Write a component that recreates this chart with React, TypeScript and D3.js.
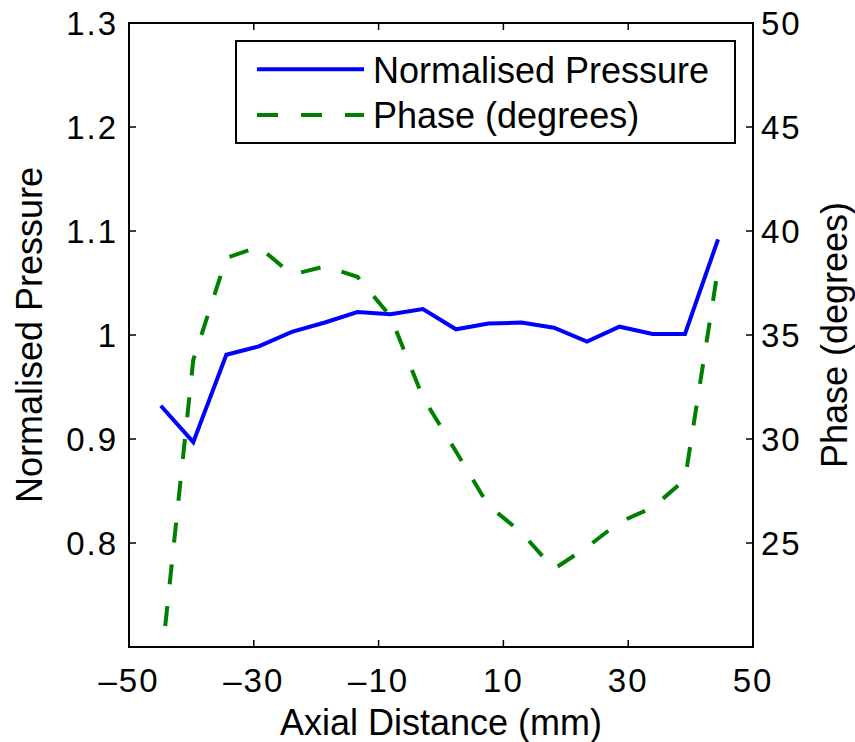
import React from "react";
import * as d3 from "d3";

const axialDistance = [-44.9, -39.7, -34.4, -29.2, -23.9, -18.6, -13.4, -8.1, -2.9, 2.4, 7.6, 12.9, 18.1, 23.4, 28.6, 33.9, 39.1, 44.4];
const normalisedPressure = [0.932, 0.897, 0.981, 0.989, 1.003, 1.012, 1.022, 1.02, 1.025, 1.0055, 1.011, 1.012, 1.007, 0.9936, 1.008, 1.001, 1.001, 1.092];
const phaseDegrees = [19.0, 33.8, 38.7, 39.25, 37.9, 38.3, 37.8, 35.9, 32.0, 29.4, 26.8, 25.5, 23.75, 24.8, 26.0, 26.7, 28.05, 38.2];

const xTicks = [-50, -30, -10, 10, 30, 50];
const leftTicks = [0.8, 0.9, 1.0, 1.1, 1.2, 1.3];
const rightTicks = [25, 30, 35, 40, 45, 50];
const seriesNames = ["Normalised Pressure", "Phase (degrees)"];

const W = 855;
const H = 742;
const L = 129, R = 753, T = 23, B = 647;
const FONT = "'Liberation Sans', Arial, Helvetica, sans-serif";

const fmtX = (v: number) => (v < 0 ? "\u2013" + Math.abs(v) : String(v));
const fmtL = (v: number) => (Math.abs(v - 1) < 1e-9 ? "1" : v.toFixed(1));

export default function App() {
  const x = d3.scaleLinear().domain([-50, 50]).range([L, R]);
  const yL = d3.scaleLinear().domain([0.7, 1.3]).range([B, T]);
  const yR = d3.scaleLinear().domain([20, 50]).range([B, T]);

  const pLine = d3
    .line<number>()
    .x((_, i) => x(axialDistance[i]))
    .y((d) => yL(d));
  const phLine = d3
    .line<number>()
    .x((_, i) => x(axialDistance[i]))
    .y((d) => yR(d));

  const tick = 7;
  const tickFont = 33;
  const labelFont = 36;

  return (
    <svg
      width={W}
      height={H}
      viewBox={`0 0 ${W} ${H}`}
      style={{ position: "absolute", left: 0, top: 0, background: "#fff" }}
      fontFamily={FONT}
    >
      <rect x={0} y={0} width={W} height={H} fill="#fff" />
      <defs>
        <clipPath id="plotClip">
          <rect x={L} y={T} width={R - L} height={B - T} />
        </clipPath>
      </defs>

      <g clipPath="url(#plotClip)">
        <path d={pLine(normalisedPressure) || ""} fill="none" stroke="#0000ff" strokeWidth={4} strokeLinejoin="miter" />
        <path d={phLine(phaseDegrees) || ""} fill="none" stroke="#008000" strokeWidth={4} strokeDasharray="20 22" />
      </g>

      {/* frame */}
      <rect x={L} y={T} width={R - L} height={B - T} fill="none" stroke="#000" strokeWidth={2} />

      {/* x ticks */}
      {xTicks.map((v) => (
        <g key={"x" + v}>
          <line x1={x(v)} x2={x(v)} y1={B} y2={B - tick} stroke="#000" strokeWidth={1.5} />
          <line x1={x(v)} x2={x(v)} y1={T} y2={T + tick} stroke="#000" strokeWidth={1.5} />
          <text x={x(v)} y={692} textAnchor="middle" fontSize={tickFont} letterSpacing={2}>
            {fmtX(v)}
          </text>
        </g>
      ))}

      {/* left ticks */}
      {leftTicks.map((v) => (
        <g key={"l" + v}>
          <line x1={L} x2={L + tick} y1={yL(v)} y2={yL(v)} stroke="#000" strokeWidth={1.5} />
          <text x={118} y={yL(v) + 11.5} textAnchor="end" fontSize={tickFont} letterSpacing={2}>
            {fmtL(v)}
          </text>
        </g>
      ))}

      {/* right ticks */}
      {rightTicks.map((v) => (
        <g key={"r" + v}>
          <line x1={R} x2={R - tick} y1={yR(v)} y2={yR(v)} stroke="#000" strokeWidth={1.5} />
          <text x={761} y={yR(v) + 11.5} textAnchor="start" fontSize={tickFont} letterSpacing={2}>
            {v}
          </text>
        </g>
      ))}

      {/* axis labels */}
      <text x={(L + R) / 2} y={735} textAnchor="middle" fontSize={labelFont}>
        Axial Distance (mm)
      </text>
      <text
        transform={`translate(41.5, ${(T + B) / 2}) rotate(-90)`}
        textAnchor="middle"
        fontSize={labelFont}
      >
        Normalised Pressure
      </text>
      <text
        transform={`translate(847, ${(T + B) / 2}) rotate(-90)`}
        textAnchor="middle"
        fontSize={labelFont}
      >
        Phase (degrees)
      </text>

      {/* legend */}
      <rect x={236} y={41} width={499} height={102} fill="#fff" stroke="#000" strokeWidth={2} />
      <line x1={257} x2={364} y1={69.3} y2={69.3} stroke="#0000ff" strokeWidth={4} />
      <line x1={257} x2={364} y1={115} y2={115} stroke="#008000" strokeWidth={4} strokeDasharray="21 23" />
      <text x={373} y={83.3} fontSize={labelFont}>
        {seriesNames[0]}
      </text>
      <text x={373} y={128.3} fontSize={labelFont}>
        {seriesNames[1]}
      </text>
    </svg>
  );
}
